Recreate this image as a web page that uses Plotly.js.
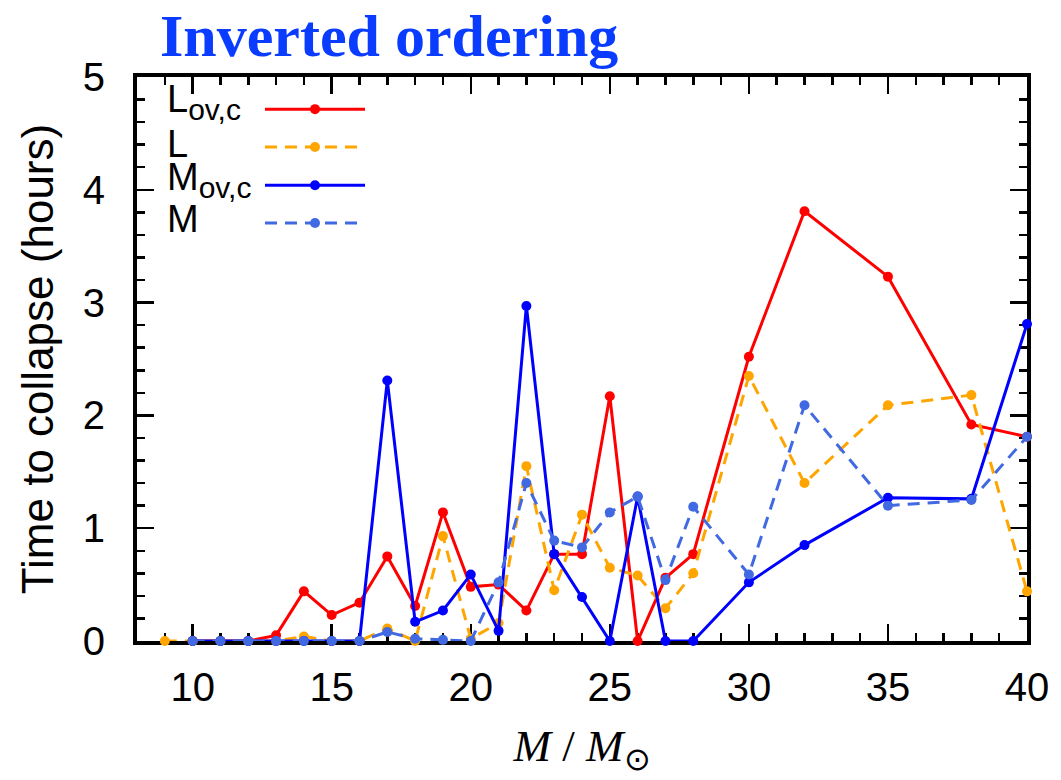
<!DOCTYPE html>
<html>
<head>
<meta charset="utf-8">
<script src="https://cdn.plot.ly/plotly-3.0.1.min.js"></script>
<style>html,body{margin:0;padding:0;background:#fff;}#chart{width:1061px;height:780px;}</style>
</head>
<body>
<div id="chart"></div>
<script>
// Stellar masses (M / Msun)
const masses = [9,10,11,12,13,14,15,16,17,18,19,20,21,22,23,24,25,26,27,28,30,32,35,38,40];
// Time to collapse (hours)
const L_ovc = [null,0,0,0,0.05,0.44,0.23,0.34,0.75,0.31,1.14,0.48,0.50,0.27,0.77,0.77,2.17,0,0.56,0.77,2.52,3.81,3.23,1.92,1.81];
const L     = [0,0,0,0,0,0.04,0,0,0.11,0,0.93,0.02,0.16,1.55,0.45,1.12,0.65,0.58,0.29,0.60,2.35,1.40,2.09,2.18,0.44];
const M_ovc = [null,0,0,0,0,0,0,0,2.31,0.17,0.27,0.59,0.09,2.97,0.77,0.39,0,1.28,0,0,0.52,0.85,1.27,1.26,2.81];
const M     = [null,0,0,0,0,0,0,0,0.08,0.02,0.01,0,0.52,1.40,0.89,0.83,1.14,1.28,0.54,1.19,0.59,2.09,1.20,1.25,1.81];

const seriesNames = ['L<sub>ov,c</sub>', 'L', 'M<sub>ov,c</sub>', 'M'];
const legendLabels = ['L<sub><span style="font-size:30px">ov,c</span></sub>', 'L', 'M<sub><span style="font-size:30px">ov,c</span></sub>', 'M'];
const seriesData = [L_ovc, L, M_ovc, M];
const colors = ['#ff0000', '#ffa500', '#0000ff', '#4169e1'];
const dashes = ['solid', '12px,8px', 'solid', '12px,8px'];

const traces = seriesData.map((ys, i) => ({
  x: masses, y: ys, type: 'scatter', mode: 'lines+markers',
  name: seriesNames[i], connectgaps: false, cliponaxis: false,
  line: {color: colors[i], width: 3, dash: dashes[i]},
  marker: {color: colors[i], size: 10},
  showlegend: false
}));

// Gnuplot-style key (text left, sample right)
const legY = [0.943, 0.876, 0.808, 0.741];
const textY = [0.955, 0.882, 0.818, 0.748];
const shapes = [];
const annotations = [];
seriesNames.forEach((n, i) => {
  shapes.push({type: 'line', xref: 'paper', yref: 'paper', x0: 0.1438, x1: 0.2562, y0: legY[i], y1: legY[i],
    line: {color: colors[i], width: 3, dash: dashes[i]}});
  shapes.push({type: 'circle', xref: 'paper', yref: 'paper', xsizemode: 'pixel', ysizemode: 'pixel',
    xanchor: 0.2, yanchor: legY[i], x0: -5, x1: 5, y0: -5, y1: 5,
    fillcolor: colors[i], line: {color: colors[i], width: 0}});
  annotations.push({xref: 'paper', yref: 'paper', x: 0.031, y: textY[i], xanchor: 'left', yanchor: 'middle',
    text: legendLabels[i], showarrow: false, font: {family: 'Liberation Sans, Arial, sans-serif', size: 38, color: '#000'}});
});

const axisCommon = {
  showgrid: false, zeroline: false, showline: true, linecolor: '#000', linewidth: 4,
  mirror: 'allticks', ticks: 'inside', ticklen: 17, tickwidth: 2.5, tickcolor: '#000',
  layer: 'below traces',
  tickfont: {family: 'Liberation Sans, Arial, sans-serif', size: 40, color: '#000'}
};

const layout = {
  width: 1061, height: 780,
  margin: {l: 137, r: 34, t: 77, b: 139},
  paper_bgcolor: '#fff', plot_bgcolor: '#fff',
  title: {text: '<b>Inverted ordering</b>', x: 160/1061, xanchor: 'left', y: 0.955, yanchor: 'middle',
    font: {family: 'Liberation Serif, Times New Roman, serif', size: 60, color: '#0a3cff'}},
  xaxis: Object.assign({}, axisCommon, {
    range: [8, 40], tickmode: 'array', tickvals: [10,15,20,25,30,35,40],
    minor: {dtick: 1, tick0: 0, ticks: 'inside', ticklen: 8, tickwidth: 2.5, tickcolor: '#000'},
    ticklabelstandoff: 8,
    title: {text: '<i>M</i> / <i>M</i><sub>⊙</sub>', standoff: 22,
      font: {family: 'Liberation Serif, Times New Roman, serif', size: 45, color: '#000'}}
  }),
  yaxis: Object.assign({}, axisCommon, {
    range: [0, 5], tickmode: 'array', tickvals: [0,1,2,3,4,5],
    minor: {dtick: 0.2, tick0: 0, ticks: 'inside', ticklen: 8, tickwidth: 2.5, tickcolor: '#000'},
    ticklabelstandoff: 20,
    title: {text: 'Time to collapse (hours)', standoff: 16,
      font: {family: 'Liberation Sans, Arial, sans-serif', size: 44, color: '#000'}}
  }),
  shapes: shapes,
  annotations: annotations
};

Plotly.newPlot('chart', traces, layout, {displayModeBar: false, staticPlot: true});
</script>
</body>
</html>
